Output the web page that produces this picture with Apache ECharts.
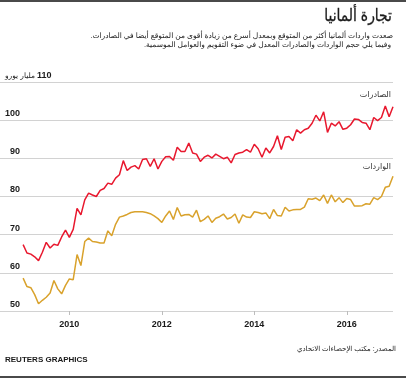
<!DOCTYPE html>
<html><head><meta charset="utf-8">
<script src="https://cdn.jsdelivr.net/npm/echarts@6/dist/echarts.min.js"></script>
<style>html,body{margin:0;padding:0;background:#fff}#c{width:406px;height:378px}</style>
</head><body><div id="c"></div>
<script>
// Monthly data, first value = January 2009, last = January 2017 (billion euros)
const startYear = 2009;
const exportsData = [
  67.4,65.2,64.9,64.2,63.2,65.4,68.0,66.5,67.5,67.2,69.4,71.2,
  69.3,71.4,76.9,75.2,79.1,80.9,80.4,80.0,81.6,82.1,83.5,83.2,
  84.8,85.7,89.4,86.8,87.7,88.1,87.2,89.7,89.9,87.9,89.9,87.2,
  89.2,90.4,90.5,89.5,92.9,91.8,91.8,94.0,91.4,91.1,89.2,90.3,
  90.8,90.1,91.1,90.5,89.9,90.3,88.8,91.0,91.4,91.6,92.3,91.6,
  93.7,92.5,90.3,92.7,91.4,93.1,95.9,92.3,95.5,95.7,94.6,97.5,
  96.6,97.5,97.9,99.2,101.3,99.8,102.2,96.8,99.2,98.5,99.6,97.6,
  97.9,98.8,100.3,100.2,99.4,99.2,97.5,100.7,99.9,100.7,103.7,100.9,
  103.5
];
const importsData = [
  58.6,56.4,56.1,54.3,51.9,52.8,53.6,54.7,58.0,55.8,54.5,56.7,
  58.4,58.2,64.8,61.9,68.2,69.1,68.2,68.1,67.8,67.8,71.0,69.7,
  72.7,74.6,74.9,75.3,75.8,76.0,76.0,76.0,75.8,75.5,74.9,74.2,
  73.2,74.9,76.2,74.0,77.1,74.9,75.2,75.3,74.6,76.4,73.4,74.0,
  74.9,73.2,74.3,74.7,75.4,74.1,74.5,75.4,73.0,75.2,74.6,74.5,
  76.0,75.8,75.5,75.7,74.2,76.6,75.0,74.9,77.2,76.2,76.5,76.6,
  76.6,77.2,79.4,79.3,79.6,78.9,80.4,78.2,80.4,78.6,79.7,78.4,
  79.5,79.2,77.5,77.5,77.6,78.1,78.0,79.7,79.2,80.0,82.4,82.7,
  85.3
];
const yearTicks = [2010, 2012, 2014, 2016];
const yMin = 50, yMax = 110, yStep = 10;
const unitLabel = 'مليار يورو';
const seriesNames = ['الصادرات', 'الواردات'];
const titleText = 'تجارة ألمانيا';
const subtitleLines = [
  'صعدت واردات ألمانيا أكثر من المتوقع وبمعدل أسرع من زيادة أقوى من المتوقع أيضا في الصادرات.\u200F',
  'وفيما يلي حجم الواردات والصادرات المعدل في ضوء التقويم والعوامل الموسمية.\u200F'
];
const sourceText = 'المصدر: مكتب الإحصاءات الاتحادي';
const creditText = 'REUTERS GRAPHICS';

const FONT = "'Liberation Sans','DejaVu Sans',Arial,sans-serif";
const chart = echarts.init(document.getElementById('c'), null, {renderer: 'canvas'});
const monthTicks = yearTicks.map(y => (y - startYear) * 12);

chart.setOption({
  animation: false,
  backgroundColor: '#fff',
  grid: {left: 0, right: 13, top: 82, bottom: 67, containLabel: false},
  xAxis: {
    type: 'value', min: -6, max: exportsData.length - 1,
    axisLine: {show: false},
    splitLine: {show: false},
    axisTick: {show: true, length: 4, lineStyle: {color: '#bdbdbd'}, customValues: monthTicks},
    axisLabel: {
      customValues: monthTicks, margin: 9,
      formatter: v => String(startYear + Math.round(v / 12)),
      color: '#1a1a1a', fontWeight: 'bold', fontSize: 9, fontFamily: FONT
    }
  },
  yAxis: {
    type: 'value', min: yMin, max: yMax, interval: yStep,
    axisLine: {show: false}, axisTick: {show: false},
    splitLine: {lineStyle: {color: '#d2d2d2', width: 1}},
    axisLabel: {
      inside: true, margin: 5, verticalAlign: 'bottom', padding: [0, 0, 2, 0],
      formatter: v => v === yMax ? '{u|' + unitLabel + ' }{b|' + v + '}' : '{n|' + v + '}',
      rich: {
        n: {width: 15, align: 'right', fontWeight: 'bold', fontSize: 9, color: '#1a1a1a', fontFamily: FONT},
        b: {fontWeight: 'bold', fontSize: 9, color: '#1a1a1a', fontFamily: FONT},
        u: {fontSize: 7.5, color: '#1a1a1a', fontFamily: FONT}
      }
    }
  },
  series: [
    {name: seriesNames[0], type: 'line', showSymbol: false, data: exportsData.map((v, i) => [i, v]),
     lineStyle: {color: '#e8182e', width: 1.5}, itemStyle: {color: '#e8182e'}},
    {name: seriesNames[1], type: 'line', showSymbol: false, data: importsData.map((v, i) => [i, v]),
     lineStyle: {color: '#d9a22c', width: 1.5}, itemStyle: {color: '#d9a22c'}}
  ]
});

const last = exportsData.length - 1;
const pE = chart.convertToPixel({gridIndex: 0}, [last, exportsData[last]]);
const pI = chart.convertToPixel({gridIndex: 0}, [last, importsData[last]]);

chart.setOption({
  graphic: [
    {type: 'rect', shape: {x: 0, y: 0, width: 406, height: 2}, style: {fill: '#4a4a4a'}},
    {type: 'rect', shape: {x: 0, y: 376, width: 406, height: 2}, style: {fill: '#4a4a4a'}},
    {type: 'text', x: 392, y: 16, scaleX: 0.82, originX: 0, originY: 0,
     style: {text: titleText, align: 'right', verticalAlign: 'middle', font: '17px ' + FONT, fill: '#1a1a1a', stroke: '#1a1a1a', lineWidth: 0.3}},
    {type: 'text', x: 393, y: 36, style: {text: subtitleLines[0], align: 'right', verticalAlign: 'middle', font: '7.5px ' + FONT, fill: '#1a1a1a'}},
    {type: 'text', x: 391, y: 45, style: {text: subtitleLines[1], align: 'right', verticalAlign: 'middle', font: '7.5px ' + FONT, fill: '#1a1a1a'}},
    {type: 'text', x: pE[0] - 2, y: pE[1] - 12, style: {text: seriesNames[0], align: 'right', verticalAlign: 'middle', font: '8px ' + FONT, fill: '#333'}},
    {type: 'text', x: pI[0] - 2, y: pI[1] - 9, style: {text: seriesNames[1], align: 'right', verticalAlign: 'middle', font: '8px ' + FONT, fill: '#333'}},
    {type: 'text', x: 396, y: 349, style: {text: sourceText, align: 'right', verticalAlign: 'middle', font: '7px ' + FONT, fill: '#1a1a1a'}},
    {type: 'text', x: 5, y: 360, style: {text: creditText, align: 'left', verticalAlign: 'middle', font: 'bold 8px ' + FONT, fill: '#1a1a1a'}}
  ]
});
</script></body></html>
